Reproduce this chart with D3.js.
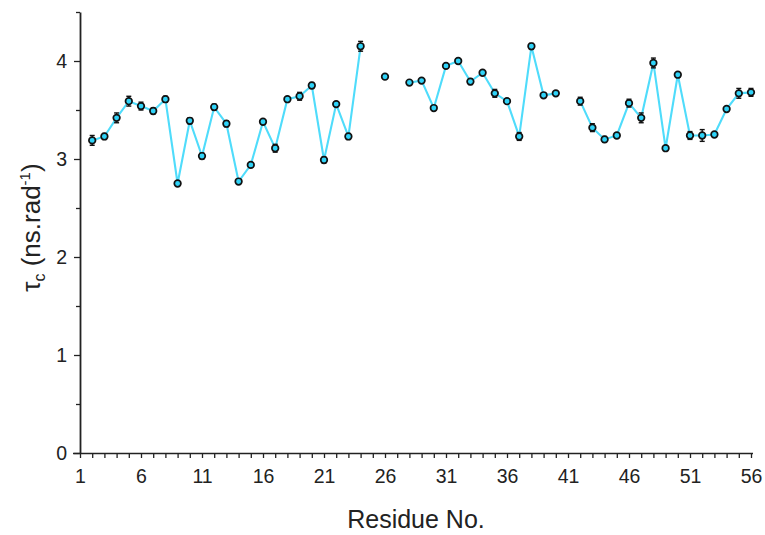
<!DOCTYPE html>
<html>
<head>
<meta charset="utf-8">
<script src="https://cdn.jsdelivr.net/npm/d3@7"></script>
<style>
  body { margin: 0; background: #fff; }
  text { font-family: Arial, "Liberation Sans", sans-serif; }
</style>
</head>
<body>
<script>
// residues 2..56, null = no value
const residues = d3.range(2, 57)
const tauC = [
  3.19, 3.23, 3.42, 3.59, 3.54, 3.49, 3.61, 2.75, 3.39, 3.03,
  3.53, 3.36, 2.77, 2.94, 3.38, 3.11, 3.61, 3.64, 3.75, 2.99,
  3.56, 3.23, 4.15, null, 3.84, null, 3.78, 3.80, 3.52, 3.95,
  4.00, 3.79, 3.88, 3.67, 3.59, 3.23, 4.15, 3.65, 3.67, null,
  3.59, 3.32, 3.20, 3.24, 3.57, 3.42, 3.98, 3.11, 3.86, 3.24,
  3.24, 3.25, 3.51, 3.67, 3.68
]
const tauErr = [
  0.05, 0.03, 0.05, 0.05, 0.04, 0.03, 0.03, 0.02, 0.03, 0.03,
  0.03, 0.03, 0.02, 0.02, 0.02, 0.04, 0.02, 0.04, 0.03, 0.03,
  0.02, 0.03, 0.05, null, 0.02, null, 0.02, 0.02, 0.02, 0.02,
  0.02, 0.03, 0.02, 0.04, 0.02, 0.04, 0.03, 0.02, 0.02, null,
  0.04, 0.04, 0.03, 0.02, 0.04, 0.05, 0.05, 0.02, 0.02, 0.04,
  0.06, 0.02, 0.02, 0.05, 0.04
]
const xTicks = [1, 6, 11, 16, 21, 26, 31, 36, 41, 46, 51, 56]
const yTicks = [0, 1, 2, 3, 4]

const W = 765
const H = 535

const data = residues.map((r, i) => ({ r, v: tauC[i], e: tauErr[i] }))

const x = d3.scaleLinear().domain([1, 56]).range([80, 751])
const y = d3.scaleLinear().domain([0, 4.5]).range([453, 12])

const svg = d3.select('body').append('svg')
  .attr('width', W)
  .attr('height', H)

// x axis
const xAxis = svg.append('g')
  .attr('transform', `translate(0,${y(0)})`)
  .call(d3.axisBottom(x)
    .tickValues(d3.range(1, 57))
    .tickSize(5)
    .tickSizeOuter(0)
    .tickFormat(d => xTicks.includes(d) ? d : ''))
xAxis.select('.domain')
  .attr('d', `M${x(1) - 7},0.5H${x(56) + 2}`)
xAxis.selectAll('.domain, .tick line').attr('stroke', '#222').attr('stroke-width', 1.3)
xAxis.selectAll('.tick text')
  .attr('font-size', 19.5)
  .attr('fill', '#222')
  .attr('dy', 22)

// y axis
const yAxis = svg.append('g')
  .attr('transform', `translate(${x(1)},0)`)
  .call(d3.axisLeft(y)
    .tickValues(yTicks)
    .tickSize(6)
    .tickSizeOuter(0)
    .tickFormat(d3.format('d')))
yAxis.selectAll('.domain, .tick line').attr('stroke', '#222').attr('stroke-width', 1.3)
yAxis.select('.domain').attr('stroke-width', 1.8)
yAxis.selectAll('.tick text')
  .attr('font-size', 19.5)
  .attr('fill', '#222')
  .attr('x', -13)

const yMinor = svg.append('g')
  .attr('transform', `translate(${x(1)},0)`)
  .call(d3.axisLeft(y)
    .tickValues([0.5, 1.5, 2.5, 3.5, 4.5])
    .tickSize(4)
    .tickSizeOuter(0)
    .tickFormat(''))
yMinor.select('.domain').remove()
yMinor.selectAll('.tick line').attr('stroke', '#222').attr('stroke-width', 1.3)

// line
const line = d3.line()
  .defined(d => d.v !== null)
  .x(d => x(d.r))
  .y(d => y(d.v))

svg.append('path')
  .datum(data)
  .attr('fill', 'none')
  .attr('stroke', '#4fdcfb')
  .attr('stroke-width', 2.1)
  .attr('d', line)

const pts = data.filter(d => d.v !== null)

// error bars
const eb = svg.append('g')
  .attr('stroke', '#111')
  .attr('stroke-width', 1.4)
  .selectAll('g')
  .data(pts)
  .join('g')
eb.append('line')
  .attr('x1', d => x(d.r)).attr('x2', d => x(d.r))
  .attr('y1', d => y(d.v - d.e)).attr('y2', d => y(d.v + d.e))
eb.append('line')
  .attr('x1', d => x(d.r) - 2.5).attr('x2', d => x(d.r) + 2.5)
  .attr('y1', d => y(d.v + d.e)).attr('y2', d => y(d.v + d.e))
eb.append('line')
  .attr('x1', d => x(d.r) - 2.5).attr('x2', d => x(d.r) + 2.5)
  .attr('y1', d => y(d.v - d.e)).attr('y2', d => y(d.v - d.e))

// markers
svg.append('g')
  .selectAll('circle')
  .data(pts)
  .join('circle')
  .attr('cx', d => x(d.r))
  .attr('cy', d => y(d.v))
  .attr('r', 3.3)
  .attr('fill', '#2fd3f8')
  .attr('stroke', '#111')
  .attr('stroke-width', 1.7)

// axis titles
svg.append('text')
  .attr('x', 416)
  .attr('y', 528)
  .attr('text-anchor', 'middle')
  .attr('font-size', 25)
  .attr('fill', '#222')
  .text('Residue No.')

const yt = svg.append('text')
  .attr('transform', `translate(40,${y(2.3)}) rotate(-90)`)
  .attr('text-anchor', 'middle')
  .attr('font-size', 26)
  .attr('fill', '#222')
yt.append('tspan').text('τ')
yt.append('tspan').text('c').attr('font-size', 16).attr('dy', 5)
yt.append('tspan').text(' (ns.rad').attr('dy', -5)
yt.append('tspan').text('-1').attr('font-size', 15).attr('dy', -10)
yt.append('tspan').text(')').attr('dy', 10)
</script>
</body>
</html>
